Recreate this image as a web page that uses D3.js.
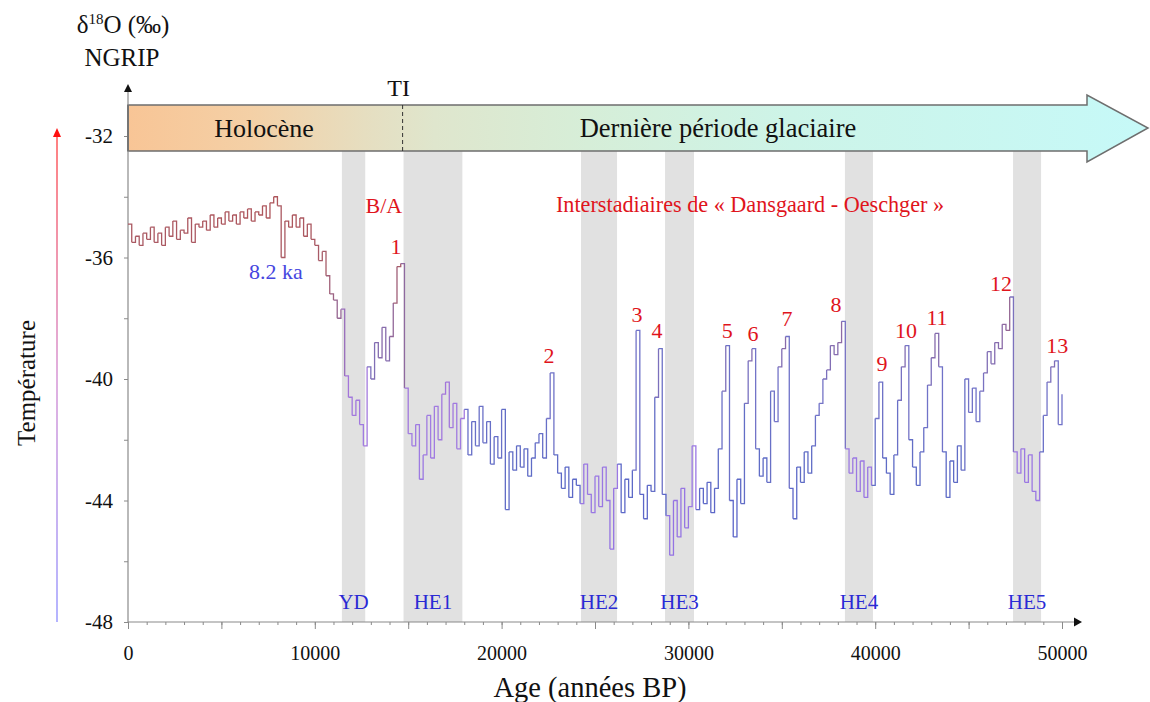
<!DOCTYPE html>
<html><head><meta charset="utf-8">
<script src="https://cdn.jsdelivr.net/npm/d3@7"></script>
<style>
body{margin:0;background:#fff}
svg{display:block}
text{font-family:"Liberation Serif","Times New Roman",serif}
</style>
</head><body>
<svg id="c" width="1150" height="702"></svg>
<script>
// ---- data ----
const ages = d3.range(0, 50001, 200); // age (années BP), 200-yr steps
const d18O = [
 -34.9,-35.5,-35.3,-35.6,-35.2, -35.4,-35.0,-35.5,-35.2,-35.6,
 -35.0,-35.3,-34.8,-35.4,-35.1, -35.2,-34.7,-35.5,-34.9,-35.0,
 -34.8,-35.1,-34.6,-35.0,-34.7, -34.9,-34.5,-34.8,-34.6,-34.9,
 -34.5,-34.7,-34.4,-34.8,-34.5, -34.6,-34.3,-34.7,-34.2,-34.0,
 -34.3,-36.0,-34.8,-35.0,-34.6, -35.0,-34.7,-35.3,-34.9,-35.4,
 -35.6,-36.1,-35.8,-36.6,-37.2, -37.4,-38.0,-37.7,-39.9,-40.6,
 -41.2,-40.7,-41.5,-42.2,-39.6, -40.0,-38.8,-39.3,-38.3,-39.4,
 -38.6,-37.5,-36.3,-36.2,-40.3, -41.8,-42.2,-41.5,-43.3,-42.5,
 -41.2,-42.6,-40.9,-42.0,-40.5, -40.1,-41.6,-40.8,-42.3,-41.3,
 -41.0,-42.5,-41.4,-42.2,-40.9, -42.1,-41.4,-42.8,-41.9,-42.6,
 -41.0,-44.3,-42.4,-43.0,-42.2, -42.9,-42.3,-43.2,-42.6,-42.1,
 -41.8,-42.6,-41.3,-39.8,-42.5, -43.1,-43.6,-42.9,-43.9,-43.3,
 -43.5,-44.1,-42.8,-43.8,-44.4, -43.2,-44.2,-42.9,-44.0,-45.6,
 -43.6,-42.8,-44.4,-43.3,-43.9, -43.0,-38.4,-43.8,-44.6,-43.5,
 -43.7,-40.6,-39.0,-43.8,-44.5, -45.8,-44.0,-45.2,-43.6,-44.9,
 -44.2,-42.2,-44.3,-43.6,-44.1, -43.4,-44.4,-43.6,-42.3,-40.4,
 -38.9,-44.0,-45.2,-43.3,-44.1, -40.8,-39.4,-39.0,-42.3,-43.2,
 -42.6,-43.4,-40.4,-41.4,-39.6, -39.0,-38.6,-43.6,-44.6,-42.9,
 -43.4,-42.4,-43.1,-42.2,-41.2, -40.8,-40.0,-39.7,-38.9,-39.2,
 -38.8,-38.1,-42.3,-43.1,-42.6, -43.7,-42.7,-43.9,-42.9,-43.5,
 -41.3,-40.1,-42.6,-43.1,-43.8, -42.5,-40.7,-39.6,-38.9,-42.0,
 -42.9,-43.5,-42.4,-41.6,-40.2, -39.3,-38.5,-39.6,-42.4,-43.9,
 -42.7,-43.4,-42.2,-43.0,-40.0, -41.1,-40.3,-41.4,-40.4,-39.8,
 -39.1,-39.5,-38.8,-39.0,-38.2, -38.4,-37.3,-42.4,-43.1,-42.3,
 -43.4,-42.5,-43.7,-44.0,-42.4, -41.2,-40.1,-39.6,-39.4,-41.5,
 -40.5
];
const yTickValues = [-32, -36, -40, -44, -48];
const yMinorTicks = [-34, -38, -42, -46];
const xTickLabels = [0, 10000, 20000, 30000, 40000, 50000];

const bandNames = ["YD", "HE1", "HE2", "HE3", "HE4", "HE5"];
const bandStart = [11450, 14750, 24250, 28750, 38380, 47380];
const bandEnd   = [12700, 17900, 26180, 30300, 39880, 48880];

const doNames = ["1","2","3","4","5","6","7","8","9","10","11","12","13"];
const doAges  = [14350, 22540, 27250, 28320, 32080, 33460, 35280, 37900, 40360, 41650, 43310, 46740, 49740];
const doVals  = [-35.62, -39.21, -37.86, -38.39, -38.39, -38.49, -37.99, -37.53, -39.47, -38.39, -37.96, -36.84, -38.88];

const periodNames = ["Holocène", "Dernière période glaciaire"];
const terminationAge = 14700;

// ---- scales ----
const svg = d3.select("#c");
const x = d3.scaleLinear().domain([0, 50000]).range([128, 1062]);
const y = d3.scaleLinear().domain([-48, -32]).range([622, 136]);
const serif = '"Liberation Serif","Times New Roman",serif';
const axisGray = "#8a8a8a";

const defs = svg.append("defs");
const bg = defs.append("linearGradient").attr("id","bannerGrad")
  .attr("gradientUnits","userSpaceOnUse").attr("x1",128).attr("x2",1150).attr("y1",0).attr("y2",0);
[[0,"#f8c596"],[0.12,"#f4d0a6"],[0.24,"#e5dfc2"],[0.3,"#dfe6cd"],[0.45,"#d6eed8"],[0.65,"#cdf4e8"],[1,"#c6f9f8"]]
  .forEach(s => bg.append("stop").attr("offset",s[0]).attr("stop-color",s[1]));
const tg = defs.append("linearGradient").attr("id","tempGrad")
  .attr("gradientUnits","userSpaceOnUse").attr("x1",0).attr("x2",0).attr("y1",622).attr("y2",135);
[[0,"#b4b4ff"],[0.5,"#e0b0e0"],[1,"#ff8080"]]
  .forEach(s => tg.append("stop").attr("offset",s[0]).attr("stop-color",s[1]));

// ---- grey bands ----
const bands = bandNames.map((n,i)=>({n, s:bandStart[i], e:bandEnd[i]}));
svg.append("g").selectAll("rect").data(bands).join("rect")
  .attr("x", d=>x(d.s)).attr("width", d=>x(d.e)-x(d.s))
  .attr("y", y(-32.5)).attr("height", y(-48)-y(-32.5))
  .attr("fill","#e1e1e1");

// ---- banner arrow ----
const bTop = 105, bBot = 151, hTop = 95, hBot = 162, headX = 1087, tipX = 1148;
svg.append("path")
  .attr("d", `M${x(0)},${bTop}L${headX},${bTop}L${headX},${hTop}L${tipX},${(bTop+bBot)/2}L${headX},${hBot}L${headX},${bBot}L${x(0)},${bBot}Z`)
  .attr("fill","url(#bannerGrad)").attr("stroke","#6e6e6e").attr("stroke-width",1.5);
svg.append("line").attr("x1",x(terminationAge)).attr("x2",x(terminationAge))
  .attr("y1",bTop).attr("y2",bBot).attr("stroke","#333").attr("stroke-dasharray","4,3").attr("stroke-width",1);
svg.append("text").attr("x",x(terminationAge)-4).attr("y",96).attr("text-anchor","middle")
  .attr("font-size",24).attr("fill","#111").text("TI");
svg.append("text").attr("x",264).attr("y",137).attr("text-anchor","middle")
  .attr("font-size",26).attr("fill","#111").text(periodNames[0]);
svg.append("text").attr("x",718).attr("y",137).attr("text-anchor","middle")
  .attr("font-size",26.5).attr("fill","#111").text(periodNames[1]);

// ---- axes ----
const hy = d => String(d);
const xMinor = d3.axisBottom(x).tickValues(d3.range(0,50001,1000)).tickSize(3).tickFormat("");
const xMid = d3.axisBottom(x).tickValues(d3.range(0,50001,5000)).tickSize(7).tickFormat("");
const xLab = d3.axisBottom(x).tickValues(xTickLabels).tickSize(0).tickPadding(24).tickFormat(hy);
[xMinor, xMid, xLab].forEach(a => {
  const g = svg.append("g").attr("transform",`translate(0,${y(-48)})`).call(a);
  g.select(".domain").remove();
  g.selectAll("line").attr("stroke",axisGray);
  g.selectAll("text").attr("font-family",serif).attr("font-size",20).attr("fill","#111");
});
svg.append("line").attr("x1",x(0)).attr("x2",1074).attr("y1",y(-48)).attr("y2",y(-48))
  .attr("stroke",axisGray).attr("stroke-width",1.2);
svg.append("path").attr("d",`M1074,${y(-48)-4.5}L1082,${y(-48)}L1074,${y(-48)+4.5}Z`).attr("fill","#111");

const yMaj = d3.axisLeft(y).tickValues(yTickValues).tickSize(4).tickPadding(11).tickFormat(hy);
const yMin = d3.axisLeft(y).tickValues(yMinorTicks).tickSize(4).tickFormat("");
[yMaj, yMin].forEach(a => {
  const g = svg.append("g").attr("transform",`translate(${x(0)},0)`).call(a);
  g.select(".domain").remove();
  g.selectAll("line").attr("stroke",axisGray);
  g.selectAll("text").attr("font-family",serif).attr("font-size",21).attr("fill","#111");
});
svg.append("line").attr("x1",x(0)).attr("x2",x(0)).attr("y1",y(-48)).attr("y2",92)
  .attr("stroke",axisGray).attr("stroke-width",1.2);
svg.append("path").attr("d",`M${x(0)-4},92L${x(0)},84L${x(0)+4},92Z`).attr("fill","#111");
svg.append("line").attr("x1",x(0)).attr("x2",x(0)).attr("y1",bTop).attr("y2",bBot)
  .attr("stroke","#6e6e6e").attr("stroke-width",1.5);

// ---- titles ----
const t1 = svg.append("text").attr("x",123).attr("y",33).attr("text-anchor","middle")
  .attr("font-size",25).attr("fill","#111");
t1.append("tspan").text("δ");
t1.append("tspan").attr("font-size",15).attr("dy",-9).text("18");
t1.append("tspan").attr("dy",9).text("O (‰)");
svg.append("text").attr("x",122).attr("y",66).attr("text-anchor","middle")
  .attr("font-size",25).attr("fill","#111").text("NGRIP");
svg.append("text").attr("transform","translate(35,383) rotate(-90)").attr("text-anchor","middle")
  .attr("font-size",25).attr("fill","#111").text("Température");
svg.append("text").attr("x",590).attr("y",697).attr("text-anchor","middle")
  .attr("font-size",28.5).attr("fill","#111").text("Age (années BP)");

// temperature arrow
svg.append("line").attr("x1",57).attr("x2",57).attr("y1",y(-48)).attr("y2",136)
  .attr("stroke","url(#tempGrad)").attr("stroke-width",2);
svg.append("path").attr("d","M53,137L57,128L61,137Z").attr("fill","#ff1010");

// ---- curve (step line coloured by value) ----
const inBand = a => bands.some(b => a >= b.s && a <= b.e);
const cNormal = d3.scaleLinear().domain([-34.5,-36.5,-38.5,-40.5,-43,-46])
  .range(["#ae565c","#a65e6c","#8c6aa6","#7474c8","#5e6cc6","#5a5ecc"]).clamp(true);
const cBand = d3.scaleLinear().domain([-38,-40,-42,-46])
  .range(["#9268a8","#a474d8","#a07ce2","#9070e4"]).clamp(true);
const pts = ages.map((a,i)=>({a, v:d18O[i]}));
const seg = [];
for (let i=0;i<pts.length-1;i++) seg.push([pts[i],pts[i+1]]);
const stepLine = d3.line().x(d=>x(d.a)).y(d=>y(d.v)).curve(d3.curveStepAfter);
svg.append("g").selectAll("path").data(seg).join("path")
  .attr("d", d => stepLine([d[0], {a:d[1].a, v:d[0].v}, d[1]]))
  .attr("fill","none").attr("stroke-width",1.3)
  .attr("stroke", d => {
    const m = (d[0].v + d[1].v)/2, mid = (d[0].a + d[1].a)/2;
    return inBand(mid) ? cBand(m) : cNormal(m);
  });

// ---- annotations ----
svg.append("g").selectAll("text").data(doNames).join("text")
  .attr("x",(d,i)=>x(doAges[i])).attr("y",(d,i)=>y(doVals[i])+8)
  .attr("text-anchor","middle").attr("font-size",22).attr("fill","#e0141c").text(d=>d);
svg.append("text").attr("x",x(13700)).attr("y",y(-34.27)+8).attr("text-anchor","middle")
  .attr("font-size",22).attr("fill","#e0141c").text("B/A");
svg.append("text").attr("x",x(33300)).attr("y",y(-34.27)+7).attr("text-anchor","middle")
  .attr("font-size",22.2).attr("fill","#e0141c").text("Interstadiaires de « Dansgaard - Oeschger »");
svg.append("text").attr("x",x(7920)).attr("y",y(-36.44)+8).attr("text-anchor","middle")
  .attr("font-size",22).attr("fill","#4646e0").text("8.2 ka");
svg.append("g").selectAll("text").data(bands).join("text")
  .attr("x",d=>(x(d.s)+x(d.e))/2).attr("y",y(-47.3)+8).attr("text-anchor","middle")
  .attr("font-size",21).attr("fill","#2a2ad4").text(d=>d.n);
</script>
</body></html>
